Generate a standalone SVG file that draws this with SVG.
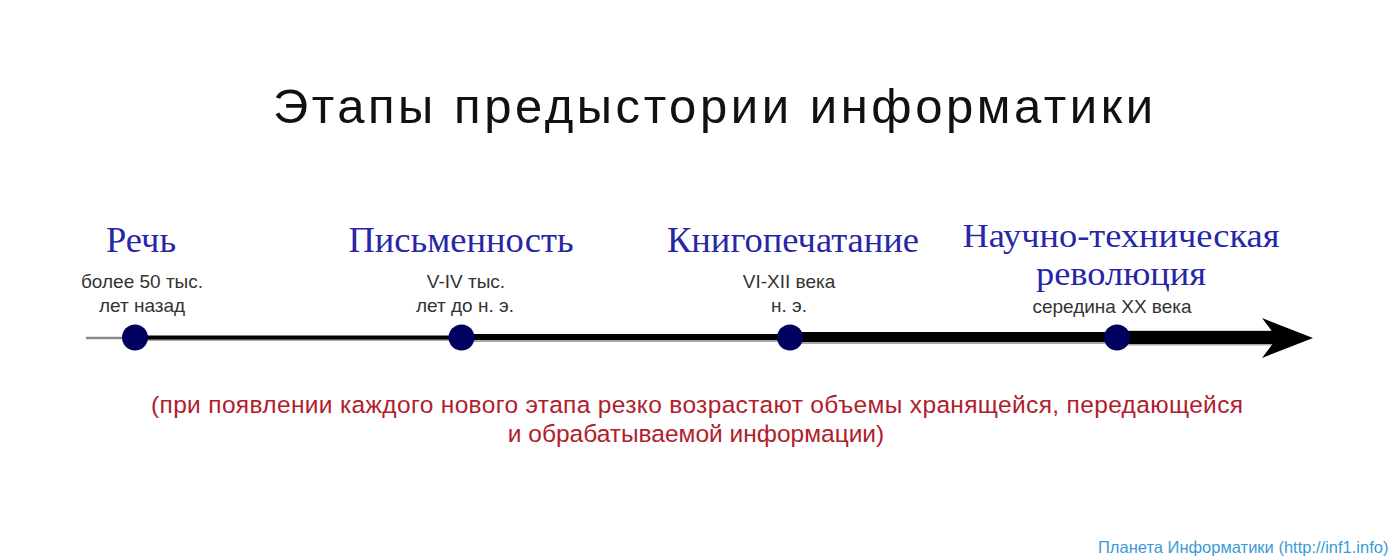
<svg xmlns="http://www.w3.org/2000/svg" width="1400" height="560" viewBox="0 0 1400 560">
<style>
.title{font-family:"Liberation Sans",Arial,sans-serif;font-size:49px;fill:#111}
.stage{font-family:"Liberation Serif","Times New Roman",serif;font-size:36.5px;fill:#2626a6;text-anchor:middle}
.stage2{font-size:34px}
.date{font-family:"Liberation Sans",Arial,sans-serif;font-size:19px;fill:#333;text-anchor:middle}
.note{font-family:"Liberation Sans",Arial,sans-serif;font-size:24.5px;fill:#b0202c;text-anchor:middle}
.foot{font-family:"Liberation Sans",Arial,sans-serif;font-size:16.5px;fill:#3a9ad9}
.dot{fill:#00005e}
.shadow{stroke:#a8a8a8}
.seg{stroke:#000}
</style>
<rect width="1400" height="560" fill="#fff"/>
<text class="title" x="273" y="123" textLength="880" lengthAdjust="spacing">Этапы предыстории информатики</text>

<g id="connectors">
  <line x1="86" y1="338" x2="135" y2="338" stroke="#8a8a8a" stroke-width="2.5"/>
  <line class="shadow" x1="135" y1="338.5" x2="461" y2="338.5" stroke-width="5"/>
  <line class="seg" x1="135" y1="337.5" x2="461" y2="337.5" stroke-width="4"/>
  <line class="shadow" x1="461" y1="338.5" x2="790" y2="338.5" stroke-width="7"/>
  <line class="seg" x1="461" y1="337" x2="790" y2="337" stroke-width="6"/>
  <line class="shadow" x1="790" y1="338" x2="1117" y2="338" stroke-width="12"/>
  <line class="seg" x1="790" y1="337" x2="1117" y2="337" stroke-width="10"/>
  <line class="shadow" x1="1117" y1="338" x2="1276" y2="338" stroke-width="15"/>
  <line class="seg" x1="1117" y1="337.5" x2="1278" y2="337.5" stroke-width="13"/>
  <polygon points="1262,318 1313,338 1262,358 1277,338" fill="#000"/>
</g>

<g id="node-speech">
  <circle class="dot" cx="135" cy="337.5" r="13"/>
  <text class="stage" x="141" y="252">Речь</text>
  <text class="date" x="142" y="288">более 50 тыс.</text>
  <text class="date" x="142" y="312">лет назад</text>
</g>

<g id="node-writing">
  <circle class="dot" cx="461.5" cy="337.5" r="13"/>
  <text class="stage" x="461" y="252">Письменность</text>
  <text class="date" x="466" y="288">V-IV тыс.</text>
  <text class="date" x="465" y="312">лет до н. э.</text>
</g>

<g id="node-printing">
  <circle class="dot" cx="790" cy="337.5" r="13"/>
  <text class="stage" x="793" y="252">Книгопечатание</text>
  <text class="date" x="789" y="288">VI-XII века</text>
  <text class="date" x="789" y="312">н. э.</text>
</g>

<g id="node-revolution">
  <circle class="dot" cx="1117" cy="337.5" r="13"/>
  <text class="stage stage2" x="1121" y="247" textLength="317" lengthAdjust="spacingAndGlyphs">Научно-техническая</text>
  <text class="stage stage2" x="1121" y="285" textLength="170" lengthAdjust="spacingAndGlyphs">революция</text>
  <text class="date" x="1112" y="313">середина XX века</text>
</g>

<g id="note">
  <text class="note" x="697" y="413" textLength="1092" lengthAdjust="spacing">(при появлении каждого нового этапа резко возрастают объемы хранящейся, передающейся</text>
  <text class="note" x="696" y="442">и обрабатываемой информации)</text>
</g>

<text class="foot" x="1098" y="553">Планета Информатики (http://inf1.info)</text>
</svg>
